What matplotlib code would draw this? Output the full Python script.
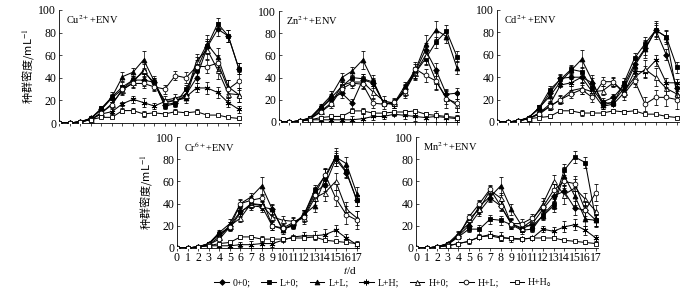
import matplotlib
matplotlib.use("Agg")
import matplotlib.pyplot as plt
import numpy as np

plt.rcParams['font.family'] = ['Liberation Serif', 'Noto Sans CJK SC', 'DejaVu Sans']
plt.rcParams['mathtext.fontset'] = 'stix'

days = list(range(18))
series_names = ["0+0;", "L+0;", "L+L;", "L+H;", "H+0;", "H+L;", "H+H。"]
panel_titles = ["Cu$^{2+}$+ENV", "Zn$^{2+}$+ENV", "Cd$^{2+}$+ENV", "Cr$^{6+}$+ENV", "Mn$^{2+}$+ENV"]

# Cu2+ + ENV
cu_00 = [0, 0, 1, 4, 12, 22, 30, 38, 38, 36, 16, 18, 25, 40, 67, 83, 77, 48]
cu_L0 = [0, 0, 1, 4, 13, 23, 32, 38, 45, 36, 15, 17, 30, 47, 68, 88, 77, 48]
cu_LL = [0, 0, 1, 4, 12, 23, 41, 45, 56, 37, 18, 20, 22, 52, 70, 58, 32, 25]
cu_LH = [0, 0, 1, 3, 8, 10, 17, 21, 18, 15, 19, 20, 23, 31, 31, 27, 18, 12]
cu_H0 = [0, 0, 1, 3, 9, 17, 29, 36, 47, 34, 20, 22, 25, 55, 65, 47, 26, 25]
cu_HL = [0, 0, 1, 3, 9, 16, 30, 35, 35, 32, 30, 42, 40, 50, 50, 53, 30, 37]
cu_HH = [0, 0, 1, 3, 5, 5, 11, 11, 8, 9, 8, 10, 9, 10, 7, 7, 5, 4]

# Zn2+ + ENV
zn_00 = [0, 0, 1, 3, 12, 21, 26, 17, 38, 35, 17, 16, 30, 45, 65, 47, 25, 26]
zn_L0 = [0, 0, 1, 4, 13, 22, 32, 40, 39, 36, 17, 16, 29, 44, 57, 72, 82, 59]
zn_LL = [0, 0, 1, 4, 14, 24, 40, 46, 56, 37, 17, 17, 32, 46, 70, 83, 77, 49]
zn_LH = [0, 0, 1, 2, 2, 2, 2, 2, 3, 5, 5, 7, 6, 5, 4, 5, 4, 3]
zn_H0 = [0, 0, 1, 3, 10, 17, 33, 36, 36, 27, 19, 17, 27, 44, 60, 37, 22, 15]
zn_HL = [0, 0, 1, 3, 9, 16, 30, 35, 34, 17, 16, 18, 28, 48, 42, 37, 21, 17]
zn_HH = [0, 0, 1, 2, 4, 5, 5, 10, 10, 8, 8, 9, 9, 10, 7, 6, 5, 4]

# Cd2+ + ENV
cd_00 = [0, 0, 1, 4, 12, 26, 39, 40, 40, 35, 18, 22, 33, 52, 66, 82, 60, 30]
cd_L0 = [0, 0, 1, 4, 13, 29, 38, 47, 45, 30, 17, 17, 35, 57, 70, 82, 76, 49]
cd_LL = [0, 0, 1, 4, 13, 23, 36, 46, 56, 37, 15, 18, 30, 50, 65, 82, 76, 25]
cd_LH = [0, 0, 1, 3, 8, 16, 33, 35, 40, 27, 14, 16, 26, 45, 45, 55, 35, 35]
cd_H0 = [0, 0, 1, 3, 8, 14, 20, 28, 30, 27, 28, 35, 27, 40, 47, 40, 30, 25]
cd_HL = [0, 0, 1, 3, 7, 14, 20, 25, 29, 22, 36, 36, 25, 37, 16, 22, 22, 20]
cd_HH = [0, 0, 1, 3, 4, 5, 10, 10, 8, 8, 8, 10, 9, 10, 7, 7, 5, 4]

# Cr6+ + ENV
cr_00 = [0, 0, 1, 4, 12, 20, 33, 38, 37, 35, 17, 21, 30, 50, 57, 80, 68, 43]
cr_L0 = [0, 0, 1, 4, 13, 18, 32, 40, 38, 20, 17, 20, 30, 52, 65, 82, 69, 43]
cr_LL = [0, 0, 1, 4, 14, 22, 40, 46, 56, 35, 16, 22, 30, 38, 63, 82, 76, 49]
cr_LH = [0, 0, 1, 2, 2, 2, 3, 3, 4, 4, 7, 10, 11, 11, 12, 16, 9, 3]
cr_H0 = [0, 0, 1, 3, 10, 20, 27, 40, 39, 28, 25, 24, 27, 45, 50, 60, 35, 27]
cr_HL = [0, 0, 1, 3, 8, 19, 40, 43, 45, 20, 18, 23, 28, 48, 66, 45, 30, 25]
cr_HH = [0, 0, 1, 2, 4, 5, 10, 10, 8, 8, 8, 9, 9, 10, 7, 6, 5, 4]

# Mn2+ + ENV
mn_00 = [0, 0, 1, 4, 11, 20, 33, 45, 38, 22, 17, 22, 35, 47, 51, 36, 34, 25]
mn_L0 = [0, 0, 1, 4, 10, 17, 17, 26, 25, 21, 16, 17, 30, 40, 70, 82, 77, 25]
mn_LL = [0, 0, 1, 4, 13, 22, 38, 46, 56, 35, 20, 20, 29, 38, 65, 47, 26, 25]
mn_LH = [0, 0, 1, 2, 4, 6, 10, 12, 10, 8, 8, 9, 17, 15, 19, 21, 16, 9]
mn_H0 = [0, 0, 1, 3, 12, 26, 35, 52, 45, 22, 18, 25, 40, 60, 48, 54, 44, 33]
mn_HL = [0, 0, 1, 3, 10, 28, 40, 53, 38, 22, 22, 27, 37, 52, 60, 58, 34, 50]
mn_HH = [0, 0, 1, 2, 4, 6, 10, 11, 9, 9, 8, 9, 9, 9, 7, 6, 5, 4]

# error bars (SD) per treatment
err_00 = [0, 0, 0.5, 1, 2, 3, 4, 4, 5, 4, 3, 3, 4, 5, 6, 6, 5, 5]
err_L0 = [0, 0, 0.5, 1, 2, 3, 4, 4, 4, 4, 3, 3, 4, 5, 6, 5, 5, 5]
err_LL = [0, 0, 0.5, 1, 2, 4, 4, 4, 8, 5, 3, 3, 4, 6, 8, 8, 6, 6]
err_LH = [0, 0, 0.5, 1, 1, 2, 2, 3, 4, 3, 2, 2, 3, 4, 5, 5, 4, 3]
err_H0 = [0, 0, 0.5, 1, 2, 3, 4, 4, 5, 5, 4, 4, 5, 6, 8, 8, 6, 6]
err_HL = [0, 0, 0.5, 1, 2, 3, 3, 4, 4, 4, 4, 4, 5, 6, 6, 7, 8, 8]
err_HH = [0, 0, 0.5, 0.5, 1, 1, 2, 2, 3, 2, 2, 2, 2, 2, 1, 1, 1, 1]

panels = [
    [cu_00, cu_L0, cu_LL, cu_LH, cu_H0, cu_HL, cu_HH],
    [zn_00, zn_L0, zn_LL, zn_LH, zn_H0, zn_HL, zn_HH],
    [cd_00, cd_L0, cd_LL, cd_LH, cd_H0, cd_HL, cd_HH],
    [cr_00, cr_L0, cr_LL, cr_LH, cr_H0, cr_HL, cr_HH],
    [mn_00, mn_L0, mn_LL, mn_LH, mn_H0, mn_HL, mn_HH],
]
errs = [err_00, err_L0, err_LL, err_LH, err_H0, err_HL, err_HH]

styles = [
    dict(marker='D', mfc='black', ms=2.9),
    dict(marker='s', mfc='black', ms=3.0),
    dict(marker='^', mfc='black', ms=3.5),
    dict(marker=(6, 2, 0), mfc='black', ms=4.2),
    dict(marker='^', mfc='white', ms=3.6),
    dict(marker='o', mfc='white', ms=3.4),
    dict(marker='s', mfc='white', ms=3.2),
]

W, H = 700, 294
fig = plt.figure(figsize=(W / 100, H / 100), dpi=100)

# pixel boxes: (left, top, right, bottom)
boxes = [
    (59, 10, 241, 123),
    (279, 11, 459, 122),
    (497, 10, 679, 122),
    (177, 137, 359, 248),
    (416, 137, 598, 248),
]

handles = []
for i, (data, box) in enumerate(zip(panels, boxes)):
    l, t, r, b = box
    ax = fig.add_axes([l / W, 1 - b / H, (r - l) / W, (b - t) / H])
    for j, (ys, st) in enumerate(zip(data, styles)):
        ax.errorbar(days, ys, yerr=errs[j], color='black', lw=0.75,
                    elinewidth=0.5, capsize=1.5, capthick=0.5,
                    mec='black', mew=0.6, zorder=3 + j * 0.1, **st)
        if i == 0:
            h, = ax.plot([], [], color='black', lw=0.75, mec='black', mew=0.6, **st)
            handles.append(h)
    ax.set_xlim(0, 17.2)
    ax.set_ylim(0, 100)
    ax.set_yticks([0, 20, 40, 60, 80, 100])
    ax.set_xticks(days)
    ax.spines['top'].set_visible(False)
    ax.spines['right'].set_visible(False)
    for s in ('left', 'bottom'):
        ax.spines[s].set_linewidth(0.6)
    ax.tick_params(axis='y', direction='in', length=2, width=0.5, labelsize=8.5, pad=2)
    ax.tick_params(axis='x', direction='out', length=2, width=0.5, labelsize=8.5, pad=1)
    if i < 3:
        ax.set_xticklabels([])
    ax.text(0.04, 0.97, panel_titles[i], transform=ax.transAxes, fontsize=7.5,
            va='top', ha='left')
    if i in (0, 3):
        ax.set_ylabel("种群密度/mL$^{-1}$", fontsize=8, labelpad=2,
                      family=['Noto Sans CJK SC', 'Liberation Serif'])
    ax.set_facecolor('none')

fig.text(350 / W, 1 - 270 / H, "$t$/d", ha='center', va='center', fontsize=8)
fig.legend(handles, series_names, loc='center', bbox_to_anchor=(386 / W, 1 - 283 / H),
           ncol=7, frameon=False, fontsize=7, handlelength=1.5, handletextpad=0.4,
           columnspacing=1.1, borderpad=0)

fig.savefig("out.png", dpi=100)
